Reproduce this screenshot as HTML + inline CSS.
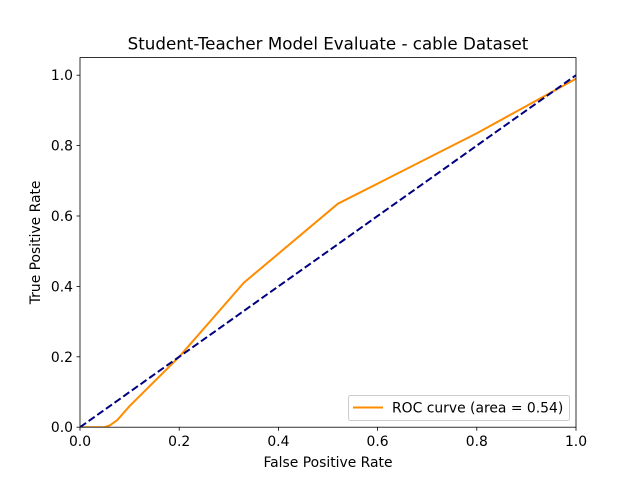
<!DOCTYPE html>
<html><head><meta charset="utf-8"><style>body{margin:0;background:#fff}svg{display:block;font-family:"DejaVu Sans","Liberation Sans",sans-serif}</style></head>
<body>
<svg id="chart" width="640" height="480">
<rect x="0" y="0" width="640" height="480" fill="#fff"/>
<g id="plot"></g>
</svg>
<script>
const fprValues = [0, 0.05, 0.06, 0.075, 0.1, 0.2, 0.33, 0.52, 0.8, 1.0];
const tprValues = [0, 0, 0.005, 0.02, 0.06, 0.2, 0.41, 0.635, 0.835, 0.99];
const diagX = [0, 1];
const diagY = [0, 1];
const xTicks = [0, 0.2, 0.4, 0.6, 0.8, 1.0];
const xTickLabels = ["0.0", "0.2", "0.4", "0.6", "0.8", "1.0"];
const yTicks = [0, 0.2, 0.4, 0.6, 0.8, 1.0];
const yTickLabels = ["0.0", "0.2", "0.4", "0.6", "0.8", "1.0"];

const L=80,R=576,T=57.6,B=427.2;
const xs=v=>L+(v-0)/(1-0)*(R-L);
const ys=v=>B-(v-0)/(1.05-0)*(B-T);
const NS="http://www.w3.org/2000/svg";
const g=document.getElementById('plot');
function mk(tag,attrs,parent){const e=document.createElementNS(NS,tag);for(const k in attrs)e.setAttribute(k,attrs[k]);(parent||g).appendChild(e);return e;}

const clip=mk('clipPath',{id:'clip'});mk('rect',{x:L,y:T,width:R-L,height:B-T},clip);

const roc=mk('polyline',{points:fprValues.map((v,i)=>xs(v)+','+ys(tprValues[i])).join(' '),fill:'none',stroke:'darkorange','stroke-width':2,'clip-path':'url(#clip)','stroke-linejoin':'round'});


const diag=mk('polyline',{points:diagX.map((v,i)=>xs(v)+','+ys(diagY[i])).join(' '),fill:'none',stroke:'navy','stroke-width':2,'stroke-dasharray':'7.4,3.2','clip-path':'url(#clip)'});



const frame=mk('rect',{x:L,y:T,width:R-L,height:B-T,fill:'none',stroke:'#000','stroke-width':0.8});



xTicks.forEach((v,i)=>{
 const t=mk('line',{x1:xs(v),x2:xs(v),y1:B,y2:B+3.5,stroke:'#000','stroke-width':0.8});
 
 
 const l=mk('text',{x:xs(v),y:B+19,'font-size':13.9,'text-anchor':'middle'});l.textContent=xTickLabels[i];
 
 
});
yTicks.forEach((v,i)=>{
 const t=mk('line',{x1:L-3.5,x2:L,y1:ys(v),y2:ys(v),stroke:'#000','stroke-width':0.8});
 
 
 const l=mk('text',{x:L-7,y:ys(v)+5,'font-size':13.9,'text-anchor':'end'});l.textContent=yTickLabels[i];
 
 
});
</script>
<div style="position:absolute;left:0;top:0;width:640px;height:480px;pointer-events:none">
<svg width="640" height="480" style="font-family:'DejaVu Sans','Liberation Sans',sans-serif">
<text x="328" y="49.5" font-size="16.7" text-anchor="middle">Student-Teacher Model Evaluate - cable Dataset</text>
<text x="328" y="467" font-size="13.9" text-anchor="middle">False Positive Rate</text>
<text x="0" y="0" font-size="13.9" text-anchor="middle" transform="translate(40,242.4) rotate(-90)">True Positive Rate</text>
<g>
<rect x="348.5" y="395.5" width="221" height="25" rx="2" fill="#fff" fill-opacity="0.8" stroke="#ccc" stroke-width="1"/>
<line x1="353" y1="407.5" x2="383" y2="407.5" stroke="darkorange" stroke-width="2"/>
<text x="392" y="412.5" font-size="13.9">ROC curve (area = 0.54)</text>
</g>
</svg></div>
</body></html>
